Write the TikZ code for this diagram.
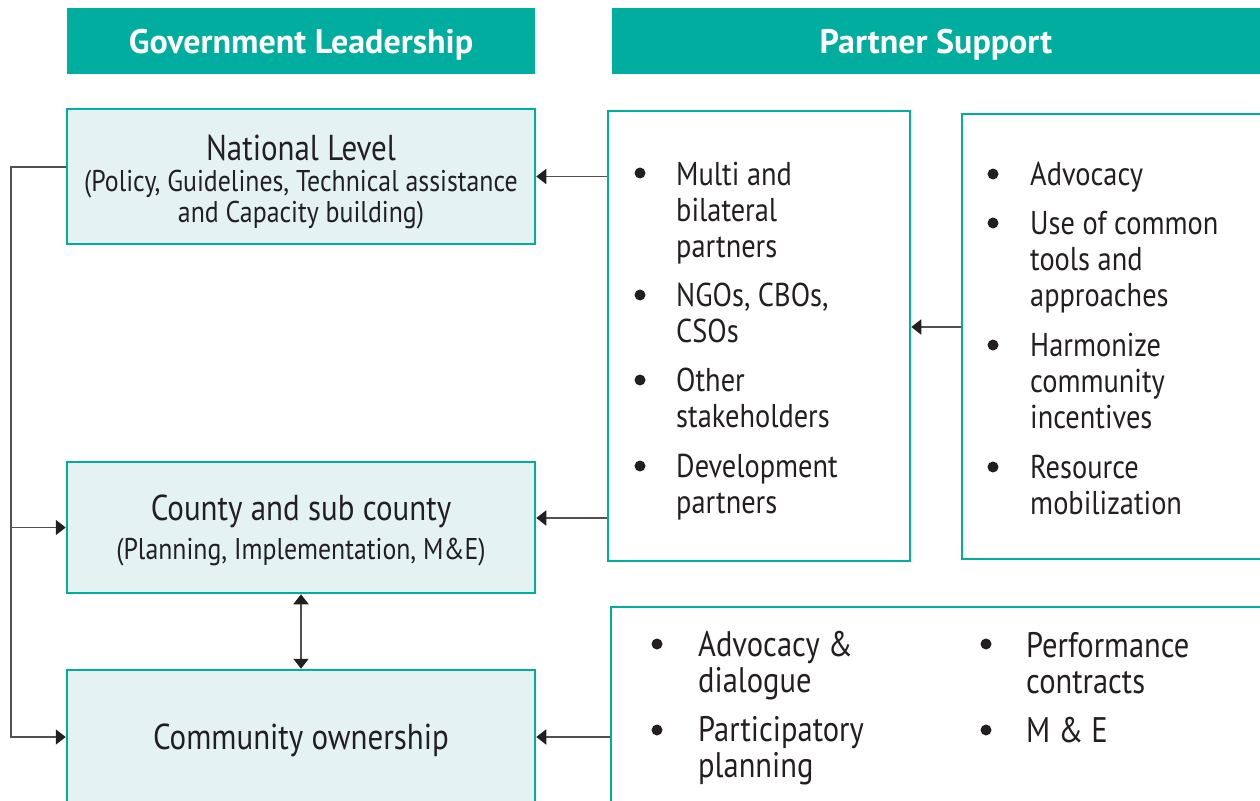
\documentclass[tikz,border=0pt]{standalone}
\usepackage{fontspec}
\setmainfont{PT Sans}[FakeStretch=0.86]
\newfontfamily\hdrfont{PT Sans}
\usetikzlibrary{arrows.meta}

\definecolor{hdrteal}{RGB}{0,173,158}
\definecolor{lvlfill}{RGB}{228,243,242}
\definecolor{arrgray}{RGB}{80,80,80}
\definecolor{txtdark}{RGB}{35,31,32}

\newcommand{\bodysize}{\fontsize{33}{36}\selectfont}
\newcommand{\engsize}{\fontsize{35.5}{36}\selectfont}
\newcommand{\titlesize}{\fontsize{36}{36}\selectfont}
\newcommand{\subsize}{\fontsize{30}{31}\selectfont}

\tikzset{
	header/.style={fill=hdrteal, text=white, font=\hdrfont\bfseries\fontsize{34}{36}\selectfont, minimum height=66pt, inner sep=0pt, text depth=0pt},
	lvlbox/.style={draw=hdrteal, line width=2.5pt, fill=lvlfill, text=txtdark, align=center, font=\subsize, inner sep=0pt, text depth=0pt},
	partbox/.style={draw=hdrteal, line width=2.5pt, fill=white, inner sep=0pt},
	item/.style={anchor=base west, align=left, inner sep=0pt, text=txtdark, font=\bodysize},
	engitem/.style={item, font=\engsize},
	dot/.style={circle, fill=txtdark, minimum size=11pt, inner sep=0pt},
	arr/.style={draw=arrgray, line width=1.8pt, -{Triangle[length=10pt, width=15pt, color=txtdark]}},
	arr2/.style={draw=arrgray, line width=1.8pt, {Triangle[length=10pt, width=15pt, color=txtdark]}-{Triangle[length=10pt, width=15pt, color=txtdark]}},
}

\begin{document}
\begin{tikzpicture}[x=1pt, y=-1pt]
	\useasboundingbox (0,0) rectangle (1260,800);
	\clip (0,0) rectangle (1260,800);

	\node[header, minimum width=468pt] (gov) at (301,41) {Government Leadership};
	\node[header, minimum width=648pt] (sup) at (936,41) {Partner Support};

	\node[lvlbox, minimum width=468pt, minimum height=135pt] (natl) at (301,176.5) {{\titlesize\rule{0pt}{30pt}National Level}\\(Policy, Guidelines, Technical assistance\\and Capacity building)};
	\node[lvlbox, minimum width=468pt, minimum height=131pt] (county) at (301,527.5) {{\titlesize County and sub county}\\[8pt](Planning, Implementation, M\&E)};
	\node[lvlbox, minimum width=468pt, minimum height=134pt] (comm) at (301,737) {\titlesize Community ownership};

	\node[partbox, minimum width=302pt, minimum height=450pt] (partners) at (759,336) {};
	\node[partbox, minimum width=308pt, minimum height=445pt] (tools) at (1116,336.5) {};
	\node[partbox, minimum width=659pt, minimum height=223pt] (engage) at (940.5,718.5) {};

	% partners (anchored on the last line)
	\node[dot] (bm1) at (640,173) {};
	\node[item] (m1) at (676,257) {Multi and\\bilateral\\partners};
	\node[dot] (bm2) at (640,295) {};
	\node[item] (m2) at (676,342) {NGOs, CBOs,\\CSOs};
	\node[dot] (bm3) at (640,380) {};
	\node[item] (m3) at (676,427) {Other\\stakeholders};
	\node[dot] (bm4) at (640,466) {};
	\node[item] (m4) at (676,513) {Development\\partners};

	% common tools
	\node[dot] (bt1) at (993,174) {};
	\node[item] (t1) at (1030,185) {Advocacy};
	\node[dot] (bt2) at (993,223) {};
	\node[item] (t2) at (1030,306) {Use of common\\tools and\\approaches};
	\node[dot] (bt3) at (993,345) {};
	\node[item] (t3) at (1030,428) {Harmonize\\community\\incentives};
	\node[dot] (bt4) at (993,467) {};
	\node[item] (t4) at (1030,514) {Resource\\mobilization};

	% community engagement
	\node[dot] (be1) at (657,644) {};
	\node[engitem] (e1) at (698,692) {Advocacy \&\\dialogue};
	\node[dot] (be2) at (657,730) {};
	\node[engitem] (e2) at (698,777) {Participatory\\planning};
	\node[dot] (be3) at (986,644) {};
	\node[engitem] (e3) at (1026,693) {Performance\\contracts};
	\node[dot] (be4) at (986,730) {};
	\node[engitem] (e4) at (1026,742) {M \& E};

	\coordinate (toolsin) at ([yshift=9.5pt]tools.west);
	\coordinate (countyin) at ([yshift=9.5pt]county.east);
	\coordinate (spine) at (11,737);

	\draw[arr] (partners.west |- natl.east) -- (natl.east);
	\draw[arr] (countyin -| partners.west) -- (countyin);
	\draw[arr] (toolsin) -- (toolsin -| partners.east);
	\draw[arr] (engage.west |- comm.east) -- (comm.east);
	\draw[arr2] (county.south) -- (comm.north);

	\draw[arr] ([yshift=9.5pt]natl.west) -| (spine) -- (comm.west);
	\draw[arr] (spine |- county.west) -- (county.west);

\end{tikzpicture}
\end{document}
